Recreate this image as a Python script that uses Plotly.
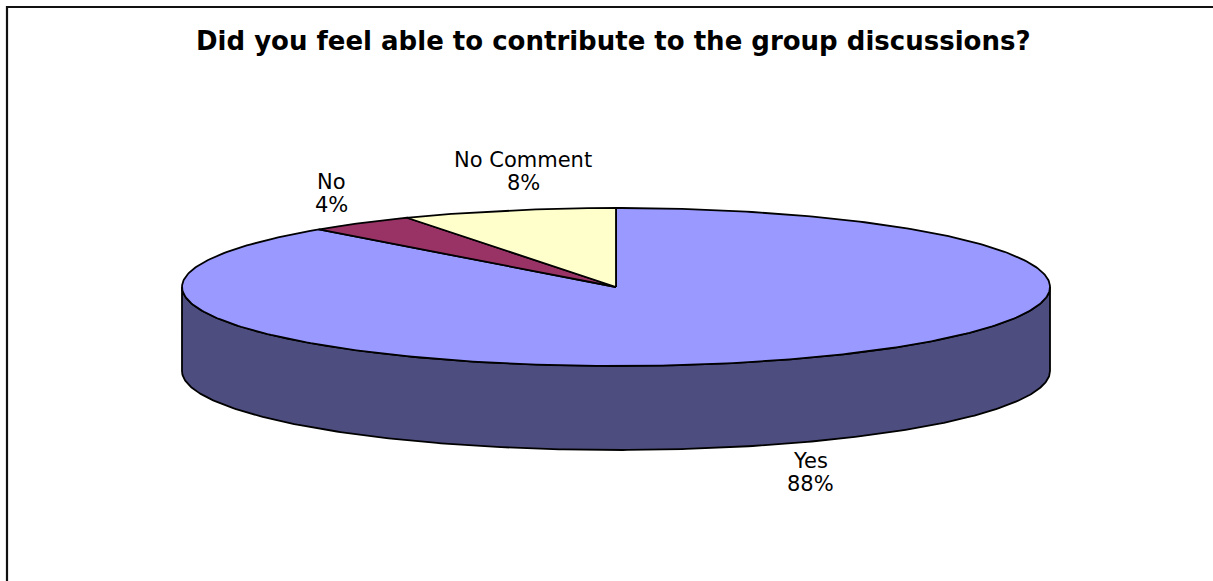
import numpy as np
import plotly.graph_objects as go

# Survey answers
categories = ["Yes", "No", "No Comment"]
percentages = [88, 4, 8]

top_colors = ["#9999FF", "#993366", "#FFFFCC"]
side_colors = ["#4D4D7F", "#4D1A33", "#80806A"]

W, H = 1213, 581
cx, cy = 616, 287        # centre of the top face
a, b = 434, 79           # semi-axes of the top face
depth = 84               # thickness of the pie

def pt(theta_deg, dy=0.0):
    t = np.radians(theta_deg)
    return cx + a * np.cos(t), cy - b * np.sin(t) + dy

fig = go.Figure()

# slice angle ranges, clockwise from 12 o'clock
total = sum(percentages)
starts, ends = [], []
ang = 90.0
for p in percentages:
    span = 360.0 * p / total
    starts.append(ang)
    ends.append(ang - span)
    ang -= span

# side wall: front half of the rim (angles 180..360), per slice
for i, cat in enumerate(categories):
    e, s = ends[i], starts[i]          # counter-clockwise interval [e, s]
    lo = e % 360
    hi = lo + (s - e)
    for k in (-360, 0, 360):
        l2, h2 = max(lo + k, 180), min(hi + k, 360)
        if h2 > l2:
            th = np.linspace(l2, h2, 300)
            xs_t, ys_t = pt(th)
            xs_b, ys_b = pt(th[::-1], depth)
            xs = np.concatenate([xs_t, xs_b, xs_t[:1]])
            ys = np.concatenate([ys_t, ys_b, ys_t[:1]])
            fig.add_trace(go.Scatter(
                x=xs, y=ys, mode="lines", fill="toself",
                fillcolor=side_colors[i],
                line=dict(color="black", width=1.8),
                hoverinfo="skip", showlegend=False))

# top face slices
for i, cat in enumerate(categories):
    th = np.linspace(starts[i], ends[i], 400)
    xs, ys = pt(th)
    xs = np.concatenate([[cx], xs, [cx]])
    ys = np.concatenate([[cy], ys, [cy]])
    fig.add_trace(go.Scatter(
        x=xs, y=ys, mode="lines", fill="toself",
        fillcolor=top_colors[i],
        line=dict(color="black", width=1.8),
        hoverinfo="skip", showlegend=False, name=cat))

# data labels (category on the first line, share on the second)
label_pos = {"Yes": (810, 461), "No": (331, 182), "No Comment": (523, 160)}
line_gap = 23
for cat, p in zip(categories, percentages):
    x, y = label_pos[cat]
    for j, txt in enumerate([cat, f"{p}%"]):
        fig.add_annotation(
            x=x, y=y + j * line_gap, xref="x", yref="y", showarrow=False,
            text=txt, align="center", yanchor="middle",
            font=dict(family="DejaVu Sans", size=21, color="black"))

fig.add_annotation(
    x=613, y=41, xref="x", yref="y", showarrow=False,
    text="<b>Did you feel able to contribute to the group discussions?</b>",
    yanchor="middle",
    font=dict(family="DejaVu Sans", size=26, color="black"))

# chart frame
fig.add_shape(type="rect", x0=7, y0=7, x1=W + 10, y1=H + 10,
              xref="x", yref="y", line=dict(color="#111111", width=2.2))

fig.update_layout(
    width=W, height=H,
    margin=dict(l=0, r=0, t=0, b=0),
    paper_bgcolor="white", plot_bgcolor="white",
    xaxis=dict(range=[0, W], visible=False, fixedrange=True),
    yaxis=dict(range=[H, 0], visible=False, fixedrange=True),
    showlegend=False,
)

fig.write_html("out.html")
